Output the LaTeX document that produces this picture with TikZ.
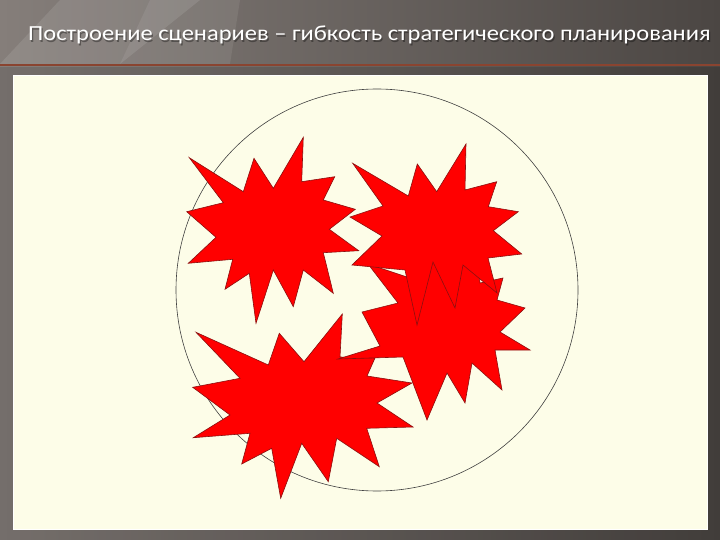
\documentclass[tikz,border=0pt]{standalone}
\usepackage{fontspec}
\newfontfamily\titlefont{Carlito}
\definecolor{bgL}{HTML}{857E7A}
\definecolor{bgR}{HTML}{4B4643}
\definecolor{rust}{HTML}{8A4430}
\definecolor{cream}{HTML}{FDFDE8}
\definecolor{starred}{HTML}{FF0000}
\definecolor{starline}{HTML}{8A1010}
\tikzset{
  burst/.style={fill=starred, draw=starline, line width=0.6pt, line join=miter},
  ring/.style={draw=black!75, line width=0.6pt},
  titletext/.style={anchor=base west, inner sep=0pt, font=\titlefont\fontsize{21.5}{24}\selectfont},
}
\newcommand{\titlestr}{\scalebox{1.14}[1]{Построение сценариев – гибкость стратегического планирования}}
\begin{document}
\begin{tikzpicture}[x=1pt,y=-1pt]
\useasboundingbox (0,0) rectangle (720,540);
% background
\fill[left color=bgL, right color=bgR] (0,0) rectangle (720,540);
\fill[white, opacity=0.10] (60,0) -- (200,0) -- (120,64) -- (0,64) -- cycle;
\fill[white, opacity=0.08] (150,0) -- (240,0) -- (230,64) -- (120,64) -- cycle;
\fill[black, opacity=0.12] (0,67) rectangle (720,540);
\fill[rust] (0,64) rectangle (720,66.5);
% title
\node[titletext, text=black, opacity=0.35] (titleshadow) at (29.2,42.2) {\titlestr};
\node[titletext, text=white] (title) at (28,41) {\titlestr};
% content panel
\fill[cream] (13,75) rectangle (707,529);
\draw[white, line width=0.8pt] (13,75) rectangle (707,529);
% circle
\draw[ring] (377,290) circle (201);
% star 1 (top left)
\draw[burst] (189.3,157.7) -- (243.3,191.7) -- (254,158.3) -- (273.3,188.3) -- (303.3,137.3) -- (301.7,181.7) -- (334.7,176.7) -- (323.3,200) -- (355.3,209.3) -- (329.3,229.3) -- (358.7,250.7) -- (323.3,252.7) -- (333.3,293.3) -- (303.3,270) -- (293.3,306.7) -- (273.3,270) -- (256,323.3) -- (249.3,273.3) -- (225,289.3) -- (232.7,259.3) -- (188.3,263.3) -- (216,237.3) -- (186.7,211.7) -- (223.3,202.7) -- cycle;
% star 4 (bottom left)
\draw[burst] (196,332.3) -- (268.3,365) -- (279.3,333.3) -- (304,361.7) -- (342.3,314) -- (340,357) -- (375,358) -- (367,376) -- (412,383) -- (377,403) -- (413,427) -- (366.7,428.3) -- (379.3,466.7) -- (336.7,438.3) -- (328.3,481.7) -- (301.7,443.3) -- (280.7,498.3) -- (271.7,448.3) -- (241.7,464) -- (250,433.3) -- (193.3,437.7) -- (230,415) -- (192.7,387.3) -- (240,378.3) -- cycle;
% star 3 (middle right)
\draw[burst] (368,264) -- (410,278) -- (425,235) -- (450,250) -- (475,235) -- (480,283) -- (503,278) -- (497,300) -- (525,308) -- (500,332) -- (530,350) -- (495,350) -- (502,390) -- (472,363) -- (465,403) -- (447,373) -- (427,420) -- (403,357) -- (338,359) -- (380,346) -- (362,312) -- (398,303) -- cycle;
% star 2 (top right)
\draw[burst] (352.7,163.3) -- (408.3,196) -- (417.3,164) -- (436.7,191.7) -- (466,144) -- (465,190) -- (496.7,181.7) -- (488.3,206.7) -- (518.3,211.7) -- (493.3,230.7) -- (521.7,254) -- (488,258) -- (497,293) -- (463,265) -- (455,308) -- (433,262) -- (417,325) -- (405,270) -- (352,265) -- (382,236) -- (350,217) -- (383,206) -- cycle;
\end{tikzpicture}
\end{document}
